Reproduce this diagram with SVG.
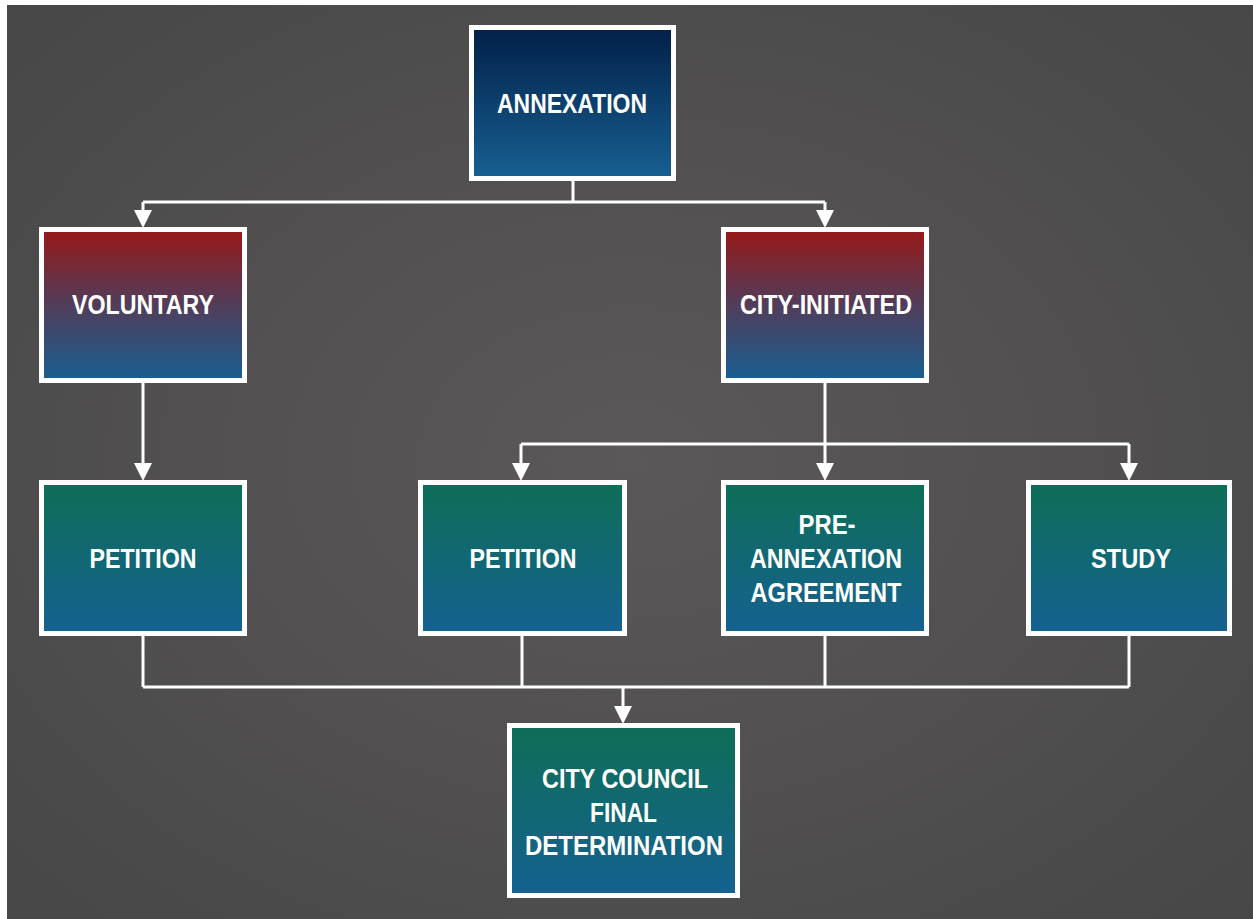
<svg xmlns="http://www.w3.org/2000/svg" width="1253" height="919" viewBox="0 0 1253 919">
  <defs>
    <radialGradient id="bg" cx="0.5" cy="0.5" r="0.75">
      <stop offset="0" stop-color="#5c5859"/>
      <stop offset="1" stop-color="#464646"/>
    </radialGradient>
    <linearGradient id="gBlue" x1="0" y1="0" x2="0" y2="1">
      <stop offset="0" stop-color="#022048"/>
      <stop offset="1" stop-color="#175f92"/>
    </linearGradient>
    <linearGradient id="gRed" x1="0" y1="0" x2="0" y2="1">
      <stop offset="0" stop-color="#981818"/>
      <stop offset="0.5" stop-color="#513d5a"/>
      <stop offset="1" stop-color="#185f92"/>
    </linearGradient>
    <linearGradient id="gGreen" x1="0" y1="0" x2="0" y2="1">
      <stop offset="0" stop-color="#0e6e56"/>
      <stop offset="1" stop-color="#156191"/>
    </linearGradient>
  </defs>
  <style>
    .box { stroke: #ffffff; stroke-width: 5; }
    .lbl { font-family: "Liberation Sans", Arial, sans-serif; font-size: 27px; font-weight: bold; fill: #ffffff; text-anchor: middle; }
    .con { stroke: #ffffff; stroke-width: 3; fill: none; }
    .head { fill: #ffffff; }
  </style>

  <rect x="0" y="0" width="1253" height="919" fill="#ffffff"/>
  <rect x="7" y="5" width="1246" height="914" fill="url(#bg)"/>

  <g id="connectors">
    <path class="con" d="M573,181 V202 M143,202 H825"/>
    <path class="con" d="M143,202 V211"/>
    <path class="con" d="M825,202 V211"/>
    <path class="con" d="M143,383 V464"/>
    <path class="con" d="M825,383 V464 M521,444 H1129"/>
    <path class="con" d="M521,444 V464"/>
    <path class="con" d="M1129,444 V464"/>
    <path class="con" d="M143,636 V687 M522,636 V687 M825,636 V687 M1129,636 V687 M143,687 H1129"/>
    <path class="con" d="M623,687 V707"/>
    <path class="head" d="M134,210 L152,210 L143,228 Z"/>
    <path class="head" d="M816,210 L834,210 L825,228 Z"/>
    <path class="head" d="M134,463 L152,463 L143,481 Z"/>
    <path class="head" d="M512,463 L530,463 L521,481 Z"/>
    <path class="head" d="M816,463 L834,463 L825,481 Z"/>
    <path class="head" d="M1120,463 L1138,463 L1129,481 Z"/>
    <path class="head" d="M614,706 L632,706 L623,724 Z"/>
  </g>

  <g id="annexation">
    <rect class="box" x="471.5" y="27.5" width="202" height="151" fill="url(#gBlue)"/>
    <text class="lbl" x="572" y="113" textLength="150" lengthAdjust="spacingAndGlyphs">ANNEXATION</text>
  </g>
  <g id="voluntary">
    <rect class="box" x="41.5" y="229.5" width="203" height="151" fill="url(#gRed)"/>
    <text class="lbl" x="143" y="314" textLength="142" lengthAdjust="spacingAndGlyphs">VOLUNTARY</text>
  </g>
  <g id="city-initiated">
    <rect class="box" x="723.5" y="229.5" width="203" height="151" fill="url(#gRed)"/>
    <text class="lbl" x="826" y="314" textLength="172" lengthAdjust="spacingAndGlyphs">CITY-INITIATED</text>
  </g>
  <g id="petition-voluntary">
    <rect class="box" x="41.5" y="482.5" width="203" height="151" fill="url(#gGreen)"/>
    <text class="lbl" x="143" y="568" textLength="107" lengthAdjust="spacingAndGlyphs">PETITION</text>
  </g>
  <g id="petition-city">
    <rect class="box" x="420.5" y="482.5" width="204" height="151" fill="url(#gGreen)"/>
    <text class="lbl" x="523" y="568" textLength="107" lengthAdjust="spacingAndGlyphs">PETITION</text>
  </g>
  <g id="pre-annexation">
    <rect class="box" x="723.5" y="482.5" width="203" height="151" fill="url(#gGreen)"/>
    <text class="lbl" x="827" y="534" textLength="57" lengthAdjust="spacingAndGlyphs">PRE-</text>
    <text class="lbl" x="826" y="568" textLength="152" lengthAdjust="spacingAndGlyphs">ANNEXATION</text>
    <text class="lbl" x="826" y="602" textLength="151" lengthAdjust="spacingAndGlyphs">AGREEMENT</text>
  </g>
  <g id="study">
    <rect class="box" x="1028.5" y="482.5" width="201" height="151" fill="url(#gGreen)"/>
    <text class="lbl" x="1131" y="568" textLength="80" lengthAdjust="spacingAndGlyphs">STUDY</text>
  </g>
  <g id="city-council">
    <rect class="box" x="509.5" y="725.5" width="228" height="170" fill="url(#gGreen)"/>
    <text class="lbl" x="625" y="788" textLength="166" lengthAdjust="spacingAndGlyphs">CITY COUNCIL</text>
    <text class="lbl" x="623.5" y="822" textLength="67" lengthAdjust="spacingAndGlyphs">FINAL</text>
    <text class="lbl" x="624" y="855" textLength="198" lengthAdjust="spacingAndGlyphs">DETERMINATION</text>
  </g>
</svg>
